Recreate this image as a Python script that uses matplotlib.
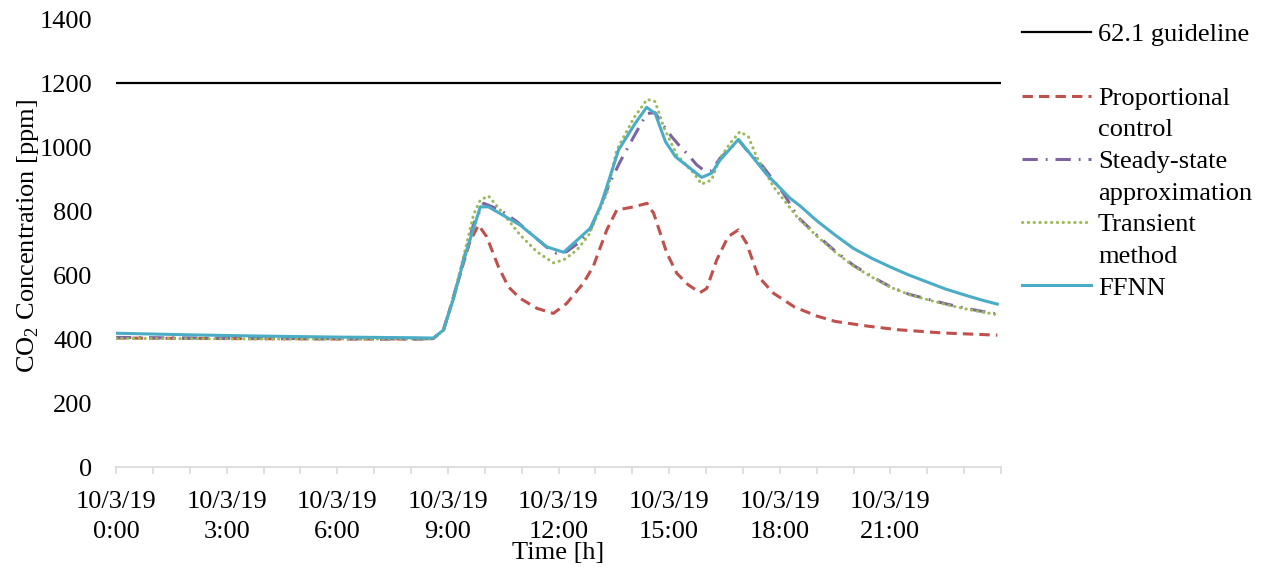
import matplotlib
matplotlib.use('Agg')
import matplotlib.pyplot as plt
from matplotlib.lines import Line2D

plt.rcParams['font.family'] = ['Liberation Serif', 'DejaVu Serif']
plt.rcParams['mathtext.fontset'] = 'custom'
plt.rcParams['mathtext.rm'] = 'Liberation Serif'

# guideline value [ppm] and time span [h]
guideline = 1200
span_h = [0, 24]

# proportional control
prop_t = [0, 2, 4, 6, 8, 8.6, 8.88, 9.15, 9.43, 9.6, 9.83, 10.05, 10.37, 10.64, 10.96, 11.41, 11.86,
	12.22, 12.67, 12.94, 13.31, 13.58, 14.04, 14.4, 14.58, 14.94, 15.21, 15.52, 15.84, 16.02, 16.29,
	16.6, 16.88, 17.1, 17.42, 17.83, 18.4, 19.0, 19.5, 20.4, 21.2, 22.4, 23.9]
prop_v = [403, 402, 401, 400, 400, 401, 428, 530, 640, 705, 756, 720, 626, 563, 527, 496, 480,
	511, 574, 626, 741, 803, 813, 824, 793, 668, 605, 569, 545, 558, 647,
	720, 741, 699, 595, 543, 500, 472, 455, 440, 429, 419, 412]

# steady-state approximation
ss_t = [0, 2, 4, 6, 8, 8.6, 8.88, 9.15, 9.43, 9.7, 9.97, 10.42, 10.87, 11.32, 11.68, 11.95, 12.22,
	12.59, 12.86, 13.13, 13.4, 13.67, 14.04, 14.22, 14.4, 14.62, 14.8, 15.07, 15.3, 15.52, 15.75,
	15.93, 16.15, 16.38, 16.75, 16.88, 17.1, 17.55, 18.1, 18.5, 19.0, 19.5, 20.0, 20.5, 21.0, 21.5,
	22.0, 22.5, 23.0, 23.5, 23.9]
ss_v = [405, 403, 402, 401, 400, 401, 428, 530, 650, 760, 824, 803, 767, 722, 687, 668, 673,
	704, 741, 813, 890, 954, 1032, 1069, 1105, 1107, 1074, 1032, 1001, 975, 944,
	928, 926, 965, 1006, 1022, 991, 938, 855, 780, 725, 675, 630, 595, 563, 540,
	525, 510, 497, 486, 478]

# transient method
tr_t = [0, 2, 4, 6, 8, 8.6, 8.88, 9.15, 9.43, 9.7, 9.88, 10.1, 10.42, 10.96, 11.41, 11.86, 12.14,
	12.5, 12.82, 13.31, 13.58, 14.04, 14.4, 14.62, 14.85, 15.21, 15.67, 15.88, 16.15, 16.38, 16.65,
	16.92, 17.15, 17.37, 17.83, 18.5, 19.0, 19.5, 20.0, 20.5, 21.0, 21.5, 22.0, 22.5, 23.0, 23.5, 23.9]
tr_v = [402, 401, 400, 400, 400, 401, 428, 530, 660, 790, 834, 847, 803, 725, 673, 638, 647,
	678, 725, 855, 991, 1090, 1149, 1142, 1063, 975, 918, 884, 897, 965, 1011,
	1048, 1032, 970, 876, 777, 722, 672, 628, 593, 562, 539, 523, 508, 495, 484, 476]

# FFNN
nn_t = [0, 2, 4, 6, 8, 8.61, 8.88, 9.15, 9.43, 9.88, 10.1, 10.96, 11.68, 12.14, 12.86, 13.13, 13.31,
	13.63, 14.08, 14.39, 14.62, 14.9, 15.17, 15.88, 16.15, 16.38, 16.88, 17.64, 18.28, 18.55, 19.0,
	19.5, 20.0, 20.5, 21.0, 21.5, 22.0, 22.5, 23.0, 23.5, 23.9]
nn_v = [418, 413, 409, 406, 404, 403, 428, 525, 647, 813, 813, 756, 688, 671, 746, 813, 876,
	991, 1074, 1124, 1105, 1017, 970, 905, 918, 959, 1024, 915, 840, 816, 770,
	725, 683, 652, 625, 600, 578, 556, 538, 521, 509]

tick_hours = list(range(0, 25))
label_hours = list(range(0, 22, 3))
y_ticks = list(range(0, 1401, 200))

FS = 19


def main():
	fig = plt.figure(figsize=(12.63, 5.68), dpi=100)
	ax = fig.add_axes([116 / 1263, 1 - 467 / 568, 885 / 1263, 448 / 568])

	ax.plot(span_h, [guideline, guideline], color='black', lw=1.6, solid_capstyle='butt')
	ax.plot(prop_t, prop_v, color='#C0504D', lw=2.2, ls=(0, (3.4, 2.0)))
	ax.plot(ss_t, ss_v, color='#8064A2', lw=2.2, ls=(0, (5, 2.6, 0.6, 2.6)))
	ax.plot(tr_t, tr_v, color='#9BBB59', lw=2.2, ls=(0, (0.1, 1.8)), dash_capstyle='round')
	ax.plot(nn_t, nn_v, color='#4BACC6', lw=2.2)

	ax.set_xlim(0, 24)
	ax.set_ylim(0, 1400)
	ax.set_xticks(tick_hours)
	ax.set_xticklabels(['10/3/19\n%d:00' % h if h in label_hours else '' for h in tick_hours],
		fontsize=FS, linespacing=1.48)
	ax.set_yticks(y_ticks)
	ax.set_yticklabels([str(v) for v in y_ticks], fontsize=FS)
	ax.tick_params(axis='x', direction='out', length=5, width=1.2, color='#D9D9D9', pad=12)
	ax.tick_params(axis='y', length=0, pad=17)
	for s in ['top', 'right', 'left']:
		ax.spines[s].set_visible(False)
	ax.spines['bottom'].set_color('#D9D9D9')
	ax.spines['bottom'].set_linewidth(1.2)

	fig.text(558 / 1263, 1 - 553 / 568, 'Time [h]', ha='center', va='center', fontsize=FS)
	fig.text(28 / 1263, 1 - 236 / 568, 'CO$_\\mathregular{2}$ Concentration [ppm]', rotation=90,
		ha='center', va='center', fontsize=FS)

	blank = Line2D([], [], color='none')
	handles = [
		Line2D([], [], color='black', lw=1.6), blank,
		Line2D([], [], color='#C0504D', lw=2.2, ls=(0, (3.4, 2.0))), blank,
		Line2D([], [], color='#8064A2', lw=2.2, ls=(0, (5, 2.6, 0.6, 2.6))), blank,
		Line2D([], [], color='#9BBB59', lw=2.2, ls=(0, (0.1, 1.8)), dash_capstyle='round'), blank,
		Line2D([], [], color='#4BACC6', lw=2.2),
	]
	labels = ['62.1 guideline', ' ', 'Proportional', 'control', 'Steady-state', 'approximation',
		'Transient', 'method', 'FFNN']
	fig.legend(handles, labels, loc='upper left', bbox_to_anchor=(1022 / 1263, 1 - 23 / 568),
		frameon=False, fontsize=FS, borderpad=0, borderaxespad=0, handlelength=2.6,
		handletextpad=0.28, labelspacing=0.31)

	fig.savefig('out.png', dpi=100)


if __name__ == '__main__':
	main()
